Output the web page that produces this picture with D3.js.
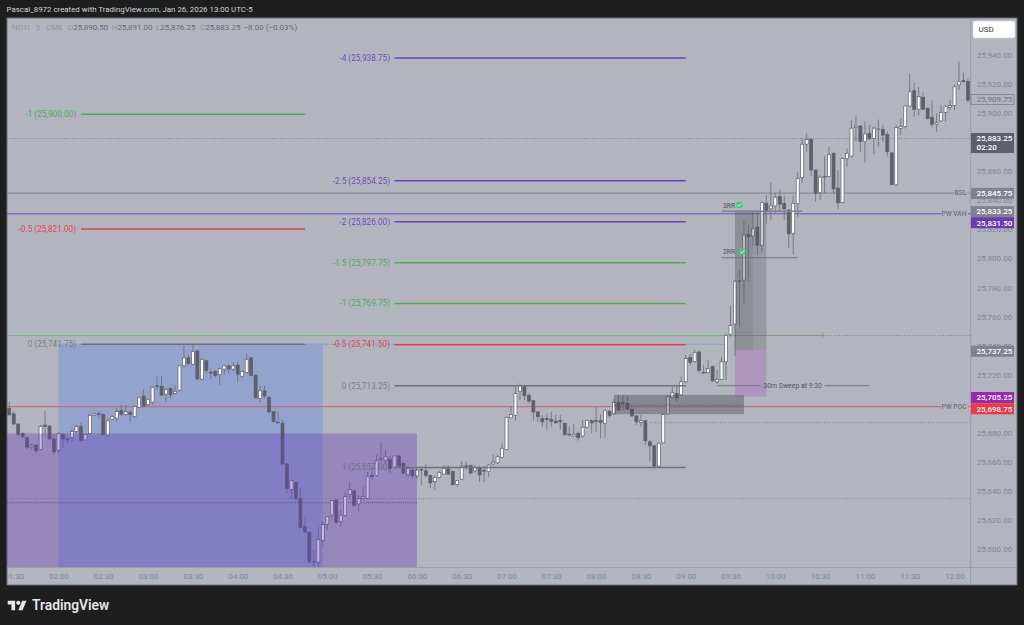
<!DOCTYPE html>
<html>
<head>
<meta charset="utf-8">
<script src="https://cdn.jsdelivr.net/npm/d3@7"></script>
<style>
  html, body { margin: 0; padding: 0; background: #1e1e1e; }
  svg { display: block; }
  text { font-family: Roboto, "Liberation Sans", sans-serif; }
</style>
</head>
<body>
<svg id="chart" width="1024" height="625"></svg>
<script>
// 3 minute bars of NQ1!, first bar is 01:27
var firstBar = '01:27';

var opens = [
  25697.25,25693.5,25686.5,25680,25677,25670.5,25671.75,25669,25685.75,25685,
  25676.25,25668.5,25679.25,25676.25,25677.25,25681.25,25684.75,25675.5,25680,25692.5,
  25693.5,25693,25678.75,25689.75,25690.5,25695.75,25693,25694.5,25691.5,25698,
  25705.75,25699.75,25701.5,25712.75,25712.5,25707,25711,25707.5,25709.75,25726.5,
  25732,25727.5,25736.75,25717.25,25730,25722,25722.5,25720.5,25724.25,25726.5,
  25724.25,25727,25719,25722,25732,25720,25704,25709.25,25704.75,25695,
  25687.75,25687,25659,25641.5,25646.25,25635.25,25615.75,25612,25592,25591.5,
  25606.5,25617.5,25623.75,25634.25,25619.25,25623.5,25638,25640.5,25631.5,25635.25,
  25635.25,25651,25651,25662.25,25661.25,25662.25,25656.75,25664.5,25659.5,25651.5,
  25654.75,25650.75,25655.25,25654.25,25651,25646.75,25649.75,25652,25655.75,25654,
  25644.75,25648.5,25657.75,25658,25654.25,25656.25,25654.5,25653.75,25659,25659.75,
  25663.5,25669,25690.75,25692.5,25708.75,25712.75,25706.25,25702.5,25694.75,25690.25,
  25690.25,25689.75,25688.5,25688.75,25687,25679.5,25678.25,25680,25678.25,25684.25,
  25688.75,25688.75,25689,25687,25695.25,25693.5,25701.25,25701.25,25700.75,25696.5,
  25692,25687.5,25688.75,25674.25,25671.5,25657.5,25673.5,25693.25,25704.75,25707.5,
  25706.5,25715.5,25732.25,25729.5,25736,25722,25721.75,25726,25715.5,25717.25,
  25729.25,25748.25,25755.25,25785,25785.5,25817,25815.75,25822,25809.5,25838.5,
  25834.5,25836.5,25843,25838.25,25833.75,25817.75,25838.25,25856.25,25879,25882.25,
  25861.25,25845.75,25856.5,25856.75,25872.75,25848.75,25838.75,25869.25,25870.75,25890.5,
  25891.5,25880.75,25886.5,25883,25889.25,25889.25,25885.75,25873,25851,25889.75,
  25891,25905.25,25915.75,25903,25911.25,25903.75,25897.5,25892.75,25895,25900.75,
  25904.25,25905.5,25919.75,25922.75,25922.25
];
var highs = [
  25701.75,25695,25686.5,25681.25,25677.75,25673.25,25672.75,25685.75,25695.5,25685.75,
  25680,25681.25,25680,25677.75,25683.5,25685.75,25687.5,25680,25693.75,25693.75,
  25695,25693.75,25689.75,25692.75,25697.25,25699.5,25699.5,25696,25699.5,25705.25,
  25710.25,25704,25712.5,25719,25719.5,25711.75,25711.75,25713.25,25727,25740.75,
  25734,25740.75,25737.5,25731.75,25730.5,25724.75,25723.5,25725.5,25727,25727,
  25728.75,25729.25,25723.5,25734.75,25732.75,25720.75,25712.25,25712.5,25705.75,25695,
  25695,25689.25,25659.5,25648.5,25646.75,25642.25,25622.75,25612.5,25599.75,25615.75,
  25619.25,25622.75,25634.25,25634.25,25627.25,25640,25646.75,25641.5,25637.75,25643.25,
  25653.75,25657,25665.25,25673.75,25668.5,25664.5,25664.5,25665.25,25659.75,25657.5,
  25656,25656.75,25657,25659,25651.5,25650.75,25654.25,25658.25,25658.25,25654.25,
  25648,25661,25660.5,25658.5,25658,25657.5,25657.5,25659,25665.25,25665.25,
  25673.25,25691.5,25698.75,25712.5,25714.5,25713.25,25707.5,25703,25695.25,25692.75,
  25693.75,25695,25692.75,25692.75,25687.5,25684.75,25686.5,25681.25,25689.25,25689.75,
  25689.75,25698,25693.5,25696.5,25696,25704,25706.5,25706.5,25705.25,25697.25,
  25692.75,25692.75,25689.25,25675.5,25672,25673.5,25693.75,25706.5,25712.25,25712.25,
  25719,25734,25734.75,25737.5,25737,25727,25730.5,25726.5,25723.75,25732.75,
  25748.75,25767.75,25785.5,25792.5,25826.25,25823.5,25832.5,25832.5,25839.5,25844,
  25852.5,25845.25,25847.5,25843,25834.25,25844,25860,25882.25,25886.5,25883,
  25861.25,25857.75,25870.5,25877.25,25873.25,25861.25,25870,25876,25895.5,25898.5,
  25892.25,25894.5,25892.25,25891,25896,25892.25,25887.5,25873.75,25892.25,25896.75,
  25906,25927.75,25921.25,25918.5,25914.5,25904.25,25909,25900.25,25906,25906,
  25909.5,25919.75,25935.75,25928.25,25924.25
];
var lows = [
  25692.5,25685.75,25678.25,25676.5,25669,25669,25666.25,25668.5,25678.25,25675.5,
  25665.25,25666.25,25670.5,25673.75,25674.25,25680,25674.25,25675,25679.5,25691.5,
  25691,25678.75,25678.25,25689.25,25688,25692,25692,25688,25691,25697.25,
  25698,25698.75,25699.5,25710.25,25705.75,25701.75,25704,25706.5,25708.75,25726,
  25727,25727,25716.75,25716.75,25721.25,25717.25,25718.5,25713.25,25720.25,25721.25,
  25722.5,25715,25718,25721.25,25719,25704,25701.25,25704,25693.75,25687.5,
  25687,25658.25,25638.75,25635.25,25634.25,25614.75,25611.25,25590.5,25587.75,25588.25,
  25602,25613.5,25620.5,25618,25615.75,25622.75,25635.25,25629.5,25626.25,25634.25,
  25634.75,25648,25650.25,25660.5,25659.5,25652.5,25656,25656.75,25652,25650.25,
  25649,25648.5,25644.5,25649.75,25642.25,25641,25649,25651.5,25651.5,25644.25,
  25643.25,25648,25654.75,25652,25653,25646.75,25646.75,25650.25,25658.25,25659,
  25662.75,25668.5,25690.5,25688.75,25703,25703,25700.75,25688.75,25688,25684.25,
  25682.75,25684.75,25686.75,25682.5,25678.25,25677.75,25677.75,25675,25677.25,25683.5,
  25680,25681.25,25676.5,25677.25,25691,25692.75,25696,25696,25696,25691.5,
  25685.75,25684.75,25672,25660.5,25657,25657,25673.25,25692.75,25704.25,25701.75,
  25705.75,25714.5,25727,25728.75,25721.75,25721.25,25721.25,25715.5,25714,25716.75,
  25716.75,25746.5,25733.25,25753.5,25769.5,25784.5,25809.5,25802.75,25805,25824.5,
  25826.75,25831.5,25832.5,25826.75,25807.25,25802.75,25829,25852.5,25873.75,25856.75,
  25839.5,25840.5,25845.25,25856.25,25844.75,25834.25,25838.25,25863.5,25869.25,25880.75,
  25873.75,25866.5,25881.75,25872.25,25877.25,25880.75,25870.5,25851,25850.25,25885.25,
  25889.75,25904.75,25898,25899,25902.5,25896,25890.5,25887.5,25894.5,25894.5,
  25902.5,25902.5,25916.25,25921.25,25907.5
];
var closes = [
  25692.75,25686.5,25679.25,25677.75,25670.5,25671.75,25668,25684.75,25684.75,25676.25,
  25667.25,25680,25676.25,25676,25681.25,25684.75,25675,25679.25,25692.5,25693.5,
  25693,25679.25,25688.75,25691.5,25695,25693.25,25695,25693,25698.5,25704.5,
  25698.75,25703.5,25711.75,25712.25,25706.25,25710.25,25706.5,25709,25726.5,25732,
  25728.25,25736.25,25717.5,25731,25723.25,25721.75,25719.75,25724.5,25726.5,25724.25,
  25726.5,25720.75,25722.75,25731,25719.75,25704.5,25709.25,25705.75,25694.75,25688.25,
  25687.5,25659,25642.25,25647.5,25635.25,25615.25,25612.25,25591.75,25591.75,25607,
  25617.25,25622.75,25633.75,25618.75,25623.75,25636.5,25641.5,25630.25,25635.25,25636.5,
  25650.25,25650.25,25661.25,25662.75,25664,25656,25664.5,25657.5,25652.5,25656,
  25650.75,25654.75,25655,25651.25,25646,25649.5,25653.25,25655.75,25652,25644.75,
  25647.5,25657.5,25657.5,25652.75,25656.25,25651.5,25654.25,25658.25,25660.25,25664,
  25669.75,25691,25693,25707.5,25712.75,25706,25702.25,25694.75,25691.5,25688,
  25689.5,25688.25,25687.25,25688,25679.25,25679.25,25679.5,25677,25684.25,25688.75,
  25687.25,25688.5,25687.5,25696,25692.25,25701.25,25696,25701,25696.75,25692,
  25688,25688.75,25675,25671.5,25657.5,25673.25,25693,25705.25,25708,25704.5,
  25715.5,25731.5,25728.75,25735.5,25723.25,25721.75,25724.75,25716.25,25717.25,25729.25,
  25747.5,25754.25,25784.75,25784.75,25816.5,25815.25,25820.75,25809.5,25838.75,25833.25,
  25836.5,25842.5,25837.75,25834.5,25817.25,25838.25,25855.5,25879,25882.25,25861.25,
  25845.25,25856.25,25856.75,25872,25848.25,25838.75,25869.25,25872.75,25890,25891.5,
  25880.75,25886,25882.75,25890,25889.5,25885.25,25873.75,25851.25,25890.5,25891,
  25905.25,25915,25903,25911.75,25903,25896.75,25892.75,25893.75,25900.75,25904.75,
  25905.5,25918.5,25922,25922,25909.25
];

var timeTicks = ['01:30','02:00','02:30','03:00','03:30','04:00','04:30','05:00','05:30','06:00','06:30',
  '07:00','07:30','08:00','08:30','09:00','09:30','10:00','10:30','11:00','11:30','12:00'];
var priceTicks = [25940,25920,25900,25860,25840,25820,25800,25780,25760,25740,25720,25680,25660,25640,25620,25600];

// fib ladders
var leftFibLevels = ['-1','-0.5','0'];
var leftFibPrices = [25900,25821,25741.75];
var rightFibLevels = ['-4','-2.5','-2','-1.5','-1','-0.5','0','1'];
var rightFibPrices = [25938.75,25854.25,25826,25797.75,25769.75,25741.5,25713.25,25657];

var badgePrices = [25909.75,25883.25,25845.75,25833.25,25831.5,25737.25,25705.25,25698.75];
var badgeKinds = ['outline','last','grey','grey','purple','grey','magenta','red'];

var legendLabels = ['O','H','L','C'];
var legendValues = ['25,890.50','25,891.00','25,876.25','25,883.25'];

var svg = d3.select('#chart');
var parseTime = d3.utcParse('%H:%M');
var fmt = d3.format(',.2f');

var paneLeft = 7, paneRight = 971, paneTop = 18, paneBottom = 568, frameRight = 1017, frameBottom = 585;

var x = d3.scaleUtc()
  .domain([parseTime('02:00'), parseTime('12:00')])
  .range([58.5, 954.5]);
var y = d3.scaleLinear()
  .domain([25940, 25600])
  .range([55.5, 549.7]);
var bottomPrice = y.invert(paneBottom);
var lineNudge = 0.6;

function tx(s) { return x(parseTime(s)); }

var bars = opens.map(function(o, i) {
  return {
    t: d3.utcMinute.offset(parseTime(firstBar), i * 3),
    o: o, h: highs[i], l: lows[i], c: closes[i]
  };
});

var defs = svg.append('defs');
defs.append('clipPath').attr('id', 'pane').append('rect')
  .attr('x', paneLeft).attr('y', paneTop)
  .attr('width', paneRight - paneLeft).attr('height', paneBottom - paneTop);
defs.append('clipPath').attr('id', 'timeClip').append('rect')
  .attr('x', paneLeft).attr('y', paneBottom)
  .attr('width', paneRight - paneLeft).attr('height', frameBottom - paneBottom);

// frame
svg.append('rect').attr('x', paneLeft).attr('y', paneTop)
  .attr('width', frameRight - paneLeft).attr('height', frameBottom - paneTop)
  .attr('fill', '#b2b5be').attr('stroke', '#6f7178').attr('stroke-width', 1);

var pane = svg.append('g').attr('clip-path', 'url(#pane)');

function hline(g, price, t0, t1, color, width, dash) {
  return g.append('line')
    .attr('x1', t0 === null ? paneLeft : tx(t0))
    .attr('x2', t1 === null ? paneRight : tx(t1))
    .attr('y1', y(price) + lineNudge).attr('y2', y(price) + lineNudge)
    .attr('stroke', color).attr('stroke-width', width)
    .attr('stroke-dasharray', dash || null);
}

function box(g, t0, t1, p0, p1, color, alpha) {
  return g.append('rect')
    .attr('x', t0 === null ? paneLeft : tx(t0))
    .attr('width', (t1 === null ? paneRight : tx(t1)) - (t0 === null ? paneLeft : tx(t0)))
    .attr('y', y(p0)).attr('height', y(p1) - y(p0))
    .attr('fill', color).attr('fill-opacity', alpha);
}

// blue box goes under the candles
box(pane, '02:00', '04:57', 25741.75, bottomPrice, '#2962ff', 0.22);

// full width level lines
hline(pane, 25883.25, null, null, '#6f717a', 0.8, '1 1.6');
hline(pane, 25845.75, null, '12:00', '#7d7f89', 1);
hline(pane, 25831.5, null, '11:51', '#7048cc', 1);
hline(pane, 25747.75, null, '10:33', '#79ab7c', 0.9);
hline(pane, 25747.75, '09:33', null, '#6f717a', 0.8, '1 1.6');
hline(pane, 25741.75, '04:45', '09:27', '#84a0d8', 0.9);
hline(pane, 25698.75, null, '11:51', '#cf5f6b', 1);
hline(pane, 25687.75, '08:36', null, '#6f717a', 0.8, '1 1.6');
hline(pane, 25635.5, null, null, '#7b7d86', 0.8, '1 1.6');
hline(pane, 25632.75, null, '06:00', '#4d4f58', 0.9, '1 1.2');

// wicks and bodies
var candles = pane.append('g');
candles.selectAll('line.wick').data(bars).enter().append('line')
  .attr('class', 'wick')
  .attr('x1', function(d) { return x(d.t); })
  .attr('x2', function(d) { return x(d.t); })
  .attr('y1', function(d) { return y(d.h); })
  .attr('y2', function(d) { return y(d.l); })
  .attr('stroke', '#6a6c76').attr('stroke-width', 0.8);
candles.selectAll('rect.body').data(bars).enter().append('rect')
  .attr('class', 'body')
  .attr('x', function(d) { return x(d.t) - 1.5; })
  .attr('width', 3)
  .attr('y', function(d) { return y(Math.max(d.o, d.c)); })
  .attr('height', function(d) { return Math.max(0.7, Math.abs(y(d.o) - y(d.c))); })
  .attr('fill', function(d) { return d.c >= d.o ? '#ffffff' : '#5d606b'; })
  .attr('stroke', '#5d606b').attr('stroke-width', 0.7);

// these sit on top of the candles
box(pane, null, '06:00', 25680, bottomPrice, '#673ab7', 0.36);
box(pane, '08:12', '09:39', 25706.5, 25693.25, '#4a4a56', 0.42);
box(pane, '09:33', '09:54', 25833.25, 25737.25, '#55555f', 0.28);
box(pane, '09:33', '09:45', 25833.25, 25737.25, '#55555f', 0.16);
box(pane, '09:33', '09:54', 25737.25, 25705.25, '#a64bc0', 0.3);
hline(pane, 25700, '08:12', '09:39', '#4d4f58', 0.8, '1 1.4');

// fib ladders
function drawFib(levels, prices, t0, t1, textX) {
  levels.forEach(function(level, i) {
    var color = fibColor(level);
    hline(pane, prices[i], t0, t1, color.line, 1.5);
    pane.append('text')
      .attr('x', textX).attr('y', y(prices[i]) + lineNudge)
      .attr('dy', '0.35em').attr('text-anchor', 'end')
      .attr('font-size', 8.2).attr('fill', color.text).attr('fill-opacity', color.alpha)
      .text(level + ' (' + fmt(prices[i]) + ')');
  });
}
function fibColor(level) {
  if (level === '-0.5') return { line: '#f23645', text: '#f23645', alpha: 0.95 };
  if (level === '-1' || level === '-1.5') return { line: '#4caf50', text: '#3fa649', alpha: 0.9 };
  if (level === '-4' || level === '-2.5' || level === '-2') return { line: '#6a3cc4', text: '#6235b8', alpha: 0.85 };
  return { line: '#6f717b', text: '#55586a', alpha: 0.62 };
}
drawFib(leftFibLevels, leftFibPrices, '02:15', '04:45', 76);
drawFib(rightFibLevels, rightFibPrices, '05:45', '09:00', 390);

// trade annotations
hline(pane, 25833.25, '09:24', '10:18', '#7f818b', 1.3);
hline(pane, 25801.25, '09:24', '10:15', '#6a6c76', 0.9);
hline(pane, 25713.25, '09:21', '09:50', '#6a6c76', 0.9);
hline(pane, 25713.25, '10:33', '11:03', '#6a6c76', 0.9);

function note(px, price, text, size, color) {
  pane.append('text').attr('x', px).attr('y', y(price))
    .attr('dy', '0.35em').attr('font-size', size).attr('fill', color)
    .text(text);
}
note(tx('09:25'), 25837, '3RR', 6.8, '#4f515a');
note(tx('09:25'), 25805, '2RR', 6.8, '#4f515a');
note(tx('09:52'), 25713.25, '30m Sweep at 9:30', 6.9, '#54565f');

function check(t, price) {
  var g = pane.append('g').attr('transform', 'translate(' + tx(t) + ',' + y(price) + ')');
  g.append('rect').attr('x', -3.1).attr('y', -3.1).attr('width', 6.2).attr('height', 6.2)
    .attr('rx', 1).attr('fill', '#3ecf7e');
  g.append('path').attr('d', 'M-2,0 L-0.6,1.4 L2,-1.4').attr('fill', 'none')
    .attr('stroke', '#ffffff').attr('stroke-width', 0.9);
}
check('09:36', 25837.25);
check('09:38', 25805);

// green ray arrow head
pane.append('path')
  .attr('d', 'M' + (tx('10:33') - 3.5) + ',' + (y(25747.75) + lineNudge - 3) + ' l3.5,3 l-3.5,3')
  .attr('fill', 'none').attr('stroke', '#79ab7c').attr('stroke-width', 1);

// right hand level names
[[25845.75, 'BSL'], [25831.5, 'PW VAH'], [25698.75, 'PW POC']].forEach(function(d) {
  pane.append('text').attr('x', 966.5).attr('y', y(d[0]) + lineNudge)
    .attr('dy', '0.35em').attr('text-anchor', 'end')
    .attr('font-size', 6.7).attr('font-weight', 500).attr('fill', '#6f717b')
    .text(d[1]);
});
hline(pane, 25845.75, '12:00', null, '#6fa594', 1).attr('x1', 966);
hline(pane, 25831.5, '12:00', null, '#7048cc', 1).attr('x1', 968);
hline(pane, 25698.75, '12:00', null, '#cf5f6b', 1).attr('x1', 968);

// axes
var xAxis = d3.axisBottom(x)
  .tickValues(timeTicks.map(function(s) { return parseTime(s); }))
  .tickFormat(d3.utcFormat('%H:%M'))
  .tickSize(0).tickPadding(5);
var gx = svg.append('g')
  .attr('clip-path', 'url(#timeClip)')
  .append('g')
  .attr('transform', 'translate(0,' + paneBottom + ')')
  .call(xAxis);
gx.select('.domain').remove();
gx.selectAll('text').attr('font-size', 8).attr('fill', '#82858f').attr('font-family', 'Roboto');

svg.append('line').attr('x1', paneLeft).attr('x2', frameRight)
  .attr('y1', paneBottom - 0.5).attr('y2', paneBottom - 0.5)
  .attr('stroke', '#9b9ea8').attr('stroke-width', 1);
svg.append('line').attr('x1', paneRight - 0.3).attr('x2', paneRight - 0.3)
  .attr('y1', paneTop).attr('y2', frameBottom)
  .attr('stroke', '#9b9ea8').attr('stroke-width', 1);

var yAxis = d3.axisRight(y)
  .tickValues(priceTicks)
  .tickFormat(fmt)
  .tickSize(0).tickPadding(6);
var gy = svg.append('g')
  .attr('transform', 'translate(' + paneRight + ',-0.6)')
  .call(yAxis);
gy.select('.domain').remove();
gy.selectAll('text').attr('font-size', 8).attr('fill', '#82858f').attr('font-family', 'Roboto');

// price badges
var badgeNudge = [0, 5, 0.9, 1, 9.5, 1, 0.8, 2.6];
var badgeStyle = {
  outline: { fill: 'none', stroke: '#7d7f89', text: '#7d7f89' },
  last: { fill: '#5d606b', stroke: 'none', text: '#ffffff' },
  grey: { fill: '#7f828c', stroke: 'none', text: '#ffffff' },
  purple: { fill: '#673ab7', stroke: 'none', text: '#ffffff' },
  magenta: { fill: '#9c27b0', stroke: 'none', text: '#ffffff' },
  red: { fill: '#f23645', stroke: 'none', text: '#ffffff' }
};
badgePrices.forEach(function(p, i) {
  var st = badgeStyle[badgeKinds[i]];
  var cy = y(p) + badgeNudge[i];
  var h = badgeKinds[i] === 'last' ? 20 : (badgeKinds[i] === 'outline' ? 10 : 11);
  svg.append('rect').attr('x', paneRight).attr('y', cy - h / 2)
    .attr('width', 43).attr('height', h)
    .attr('fill', st.fill).attr('stroke', st.stroke).attr('stroke-width', 0.8);
  svg.append('text').attr('x', 976.5)
    .attr('y', badgeKinds[i] === 'last' ? cy - 4.6 : cy)
    .attr('dy', '0.35em').attr('font-size', 8).attr('font-weight', 500)
    .attr('fill', st.text).text(fmt(p));
  if (badgeKinds[i] === 'last') {
    svg.append('text').attr('x', 976.5).attr('y', cy + 4.4)
      .attr('dy', '0.35em').attr('font-size', 8).attr('font-weight', 500)
      .attr('fill', st.text).text('02:20');
  }
});

// USD button
svg.append('rect').attr('x', 973).attr('y', 21).attr('width', 42).attr('height', 17)
  .attr('rx', 2).attr('fill', '#ffffff').attr('stroke', '#cfd2da').attr('stroke-width', 0.6);
svg.append('text').attr('x', 978.5).attr('y', 29.5).attr('dy', '0.35em')
  .attr('font-size', 8).attr('fill', '#2a2e39').text('USD');

// header and legend
svg.append('text').attr('x', 6.5).attr('y', 9.5).attr('dy', '0.35em')
  .attr('font-size', 7.9).attr('fill', '#d1d4dc')
  .text('Pascal_8972 created with TradingView.com, Jan 26, 2026 13:00 UTC-5');

svg.append('text').attr('x', 11.7).attr('y', 27).attr('dy', '0.35em')
  .attr('font-size', 8).attr('fill', '#8f929c').text('NQ1! · 3 · CME');
var legendX = [67.7, 111.7, 156, 200];
legendLabels.forEach(function(l, i) {
  var t = svg.append('text').attr('x', legendX[i]).attr('y', 27).attr('dy', '0.35em')
    .attr('font-size', 8);
  t.append('tspan').attr('fill', '#8f929c').text(l);
  t.append('tspan').attr('fill', '#666974').text(legendValues[i]);
});
svg.append('text').attr('x', 243.5).attr('y', 27).attr('dy', '0.35em')
  .attr('font-size', 8).attr('fill', '#666974').text('−8.00 (−0.03%)');

// logo
var logo = svg.append('g').attr('transform', 'translate(7.7,598.6) scale(0.53)').attr('fill', '#e6e6e6');
logo.append('path').attr('d', 'M14 22H7V11H0V4h14v18zM28 22h-8l7.5-18h8L28 22z');
logo.append('circle').attr('cx', 20).attr('cy', 8).attr('r', 4);
svg.append('text').attr('x', 32).attr('y', 605.5).attr('dy', '0.35em')
  .attr('font-family', 'Inter, Roboto, sans-serif').attr('font-size', 13.8)
  .attr('font-weight', 600).attr('fill', '#e6e6e6').text('TradingView');
</script>
</body>
</html>
